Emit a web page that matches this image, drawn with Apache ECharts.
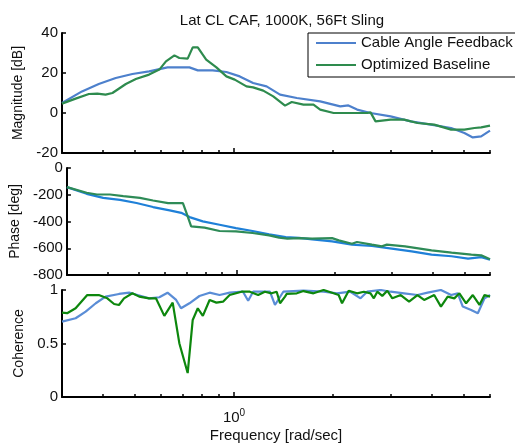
<!DOCTYPE html>
<html>
<head>
<meta charset="utf-8">
<script src="https://cdn.jsdelivr.net/npm/echarts@6/dist/echarts.min.js"></script>
<style>
  html, body { margin: 0; padding: 0; background: #fff; }
  #main { width: 515px; height: 447px; }
</style>
</head>
<body>
<div id="main"></div>
<script>
// magnitude [dB]
const magFreqCAF = [0.3, 0.345, 0.388, 0.437, 0.491, 0.552, 0.628, 0.732, 0.776, 0.861, 0.948, 1.041, 1.143, 1.256, 1.38, 1.552, 1.828, 2.104, 2.227, 2.367, 2.6, 2.993, 3.446, 3.966, 4.57, 5.015, 5.32, 5.64, 6.0]
const magCAF = [5, 10.8, 14.5, 17.5, 19.5, 20.8, 22.8, 22.8, 21.3, 21.3, 20.5, 18.3, 15, 13.3, 9.2, 7.5, 5.8, 3.3, 3.8, 1.7, 0, -1.7, -4.2, -5.8, -7.5, -10, -12.2, -11.7, -8.8]
const magFreqOpt = [0.3, 0.33, 0.362, 0.384, 0.407, 0.427, 0.469, 0.503, 0.552, 0.593, 0.621, 0.659, 0.682, 0.723, 0.749, 0.776, 0.823, 0.884, 0.948, 1.005, 1.091, 1.143, 1.227, 1.316, 1.429, 1.498, 1.626, 1.744, 1.828, 2.008, 2.258, 2.539, 2.6, 2.693, 2.993, 3.288, 3.611, 4.06, 4.57, 5.015, 5.382, 5.64, 6.0]
const magOpt = [4.7, 7.2, 9.5, 9.7, 9.2, 10, 14.5, 17, 19.2, 21.7, 25.8, 28.8, 27.5, 27.2, 32.8, 32.8, 26.7, 22.8, 18.3, 16.7, 13.3, 12.8, 11.2, 8.3, 3.7, 5.5, 4.2, 4.2, 1.7, 0, 0, 0, 0.3, -4.2, -3.3, -3.3, -5, -5.8, -8.3, -8.3, -7.5, -7.2, -6.3]

// phase [deg]
const phFreqCAF = [0.3, 0.345, 0.388, 0.437, 0.491, 0.552, 0.621, 0.674, 0.715, 0.785, 0.884, 0.993, 1.117, 1.256, 1.412, 1.552, 1.704, 1.962, 2.258, 2.6, 2.993, 3.446, 3.966, 4.57, 5.137, 5.64, 6.0]
const phCAF = [-143, -193, -223, -238, -262, -292, -317, -335, -367, -399, -424, -449, -471, -496, -516, -522, -534, -548, -573, -583, -603, -623, -648, -660, -678, -666, -685]
const phFreqOpt = [0.3, 0.345, 0.371, 0.407, 0.447, 0.503, 0.552, 0.614, 0.682, 0.698, 0.723, 0.795, 0.884, 0.993, 1.117, 1.256, 1.348, 1.429, 1.552, 1.704, 1.962, 2.056, 2.258, 2.339, 2.6, 2.79, 2.89, 3.288, 3.966, 4.57, 5.258, 5.64, 6.0]
const phOpt = [-143, -185, -198, -198, -210, -223, -243, -262, -262, -330, -437, -446, -471, -474, -486, -504, -521, -528, -524, -528, -524, -541, -566, -553, -573, -586, -573, -586, -616, -633, -648, -653, -683]

// coherence
const cohFreqCAF = [0.3, 0.33, 0.354, 0.38, 0.407, 0.447, 0.48, 0.509, 0.552, 0.593, 0.628, 0.667, 0.69, 0.732, 0.785, 0.843, 0.904, 0.97, 1.065, 1.104, 1.143, 1.286, 1.332, 1.412, 1.626, 1.872, 2.056, 2.258, 2.424, 2.539, 2.79, 2.993, 3.288, 3.611, 3.877, 4.256, 4.57, 4.787, 4.959, 5.258, 5.511, 5.774, 6.0]
const cohCAF = [0.705, 0.736, 0.798, 0.876, 0.938, 0.963, 0.975, 0.953, 0.922, 0.932, 0.975, 0.907, 0.829, 0.876, 0.944, 0.975, 0.953, 0.975, 0.984, 0.9, 0.984, 0.984, 0.86, 0.984, 0.995, 0.984, 0.969, 0.984, 0.922, 0.984, 1.0, 0.984, 0.969, 0.953, 0.975, 1.0, 0.953, 0.969, 0.845, 0.814, 0.783, 0.922, 0.953]
const cohFreqOpt = [0.3, 0.311, 0.33, 0.358, 0.388, 0.412, 0.432, 0.447, 0.463, 0.491, 0.515, 0.552, 0.579, 0.614, 0.651, 0.682, 0.723, 0.749, 0.776, 0.804, 0.843, 0.884, 0.926, 0.97, 1.054, 1.117, 1.184, 1.241, 1.301, 1.348, 1.38, 1.429, 1.446, 1.552, 1.626, 1.744, 1.872, 2.008, 2.08, 2.13, 2.232, 2.367, 2.481, 2.6, 2.661, 2.726, 2.823, 2.924, 3.029, 3.212, 3.405, 3.611, 3.784, 4.06, 4.256, 4.462, 4.674, 4.842, 5.076, 5.32, 5.574, 5.774, 6.0]
const cohOpt = [0.788, 0.783, 0.829, 0.953, 0.953, 0.922, 0.869, 0.86, 0.922, 0.969, 0.938, 0.922, 0.922, 0.758, 0.882, 0.503, 0.224, 0.72, 0.829, 0.758, 0.907, 0.882, 0.891, 0.953, 0.984, 0.984, 0.953, 0.984, 0.969, 0.984, 0.876, 0.938, 0.963, 0.969, 0.99, 0.969, 1.0, 0.969, 0.953, 0.876, 0.993, 0.969, 0.984, 0.969, 0.922, 0.984, 0.945, 0.993, 0.922, 0.953, 0.891, 0.953, 0.907, 0.953, 0.845, 0.938, 0.922, 0.969, 0.876, 0.953, 0.86, 0.953, 0.938]

const minorTicks = [0.3, 0.4, 0.5, 0.6, 0.7, 0.8, 0.9, 1, 2, 3, 4, 5, 6]
const nameCAF = 'Cable Angle Feedback'
const nameOpt = 'Optimized Baseline'

const font = 'Liberation Sans, Arial, sans-serif'

function pairs(f, v) {
  return f.map((x, i) => [x, v[i]])
}

const grids = [
  { left: 62, top: 33, width: 428, height: 120 },
  { left: 62, top: 168, width: 428, height: 107 },
  { left: 62, top: 290, width: 428, height: 107 }
]

let xAxes = []
grids.forEach((g, i) => {
  // small ticks
  xAxes.push({
    type: 'log', gridIndex: i, position: 'bottom', min: 0.3, max: 6,
    axisLine: { show: true, onZero: false, lineStyle: { color: '#000', width: 2 } },
    axisTick: { show: true, inside: true, length: 3, customValues: minorTicks, lineStyle: { color: '#000', width: 1.5 } },
    axisLabel: { show: false },
    splitLine: { show: false }
  })
  // bigger tick at 10^0
  xAxes.push({
    type: 'log', gridIndex: i, position: 'bottom', min: 0.3, max: 6,
    axisLine: { show: false, onZero: false },
    axisTick: { show: true, inside: true, length: 5, customValues: [1], lineStyle: { color: '#000', width: 1.5 } },
    axisLabel: i == 2 ? {
      show: true, customValues: [1], margin: 11,
      formatter: () => '{b|10}{s|0}',
      rich: {
        b: { fontSize: 15, fontFamily: font, color: '#111' },
        s: { fontSize: 10, fontFamily: font, color: '#111', padding: [0, 0, 9, 0] }
      }
    } : { show: false },
    splitLine: { show: false },
    name: i == 2 ? 'Frequency [rad/sec]' : '',
    nameLocation: 'middle', nameGap: 31,
    nameTextStyle: { fontSize: 15, fontFamily: font, color: '#111' }
  })
})

function yAxis(i, min, max, interval, name, gap) {
  return {
    type: 'value', gridIndex: i, min: min, max: max, interval: interval,
    axisLine: { show: true, lineStyle: { color: '#000', width: 2 } },
    axisTick: { show: true, inside: true, length: 4, lineStyle: { color: '#000', width: 1.5 } },
    axisLabel: { fontSize: 15, fontFamily: font, color: '#111', margin: 4 },
    splitLine: { show: false },
    name: name, nameLocation: 'middle', nameGap: gap,
    nameTextStyle: { fontSize: 14, fontFamily: font, color: '#111' }
  }
}

function line(name, xi, yi, data, color) {
  return {
    name: name, type: 'line', xAxisIndex: xi, yAxisIndex: yi,
    data: data, symbol: 'none', showSymbol: false,
    lineStyle: { width: 2.2, color: color },
    itemStyle: { color: color }
  }
}

const chart = echarts.init(document.getElementById('main'))
chart.setOption({
  animation: false,
  backgroundColor: '#fff',
  title: {
    text: 'Lat CL CAF, 1000K, 56Ft Sling',
    left: 277, top: 8, textAlign: 'center',
    textStyle: { fontSize: 15, fontWeight: 'normal', fontFamily: font, color: '#111' }
  },
  legend: {
    data: [nameCAF, nameOpt],
    orient: 'vertical', left: 308, top: 33,
    icon: 'rect', itemWidth: 40, itemHeight: 2, itemGap: 6,
    padding: [2, 10, 4, 8],
    borderColor: '#000', borderWidth: 1, backgroundColor: '#fff',
    textStyle: { fontSize: 15, lineHeight: 16, fontFamily: font, color: '#111' }
  },
  grid: grids,
  xAxis: xAxes,
  yAxis: [
    yAxis(0, -20, 40, 20, 'Magnitude [dB]', 35),
    yAxis(1, -800, 0, 200, 'Phase [deg]', 41),
    yAxis(2, 0, 1, 0.5, 'Coherence', 35)
  ],
  series: [
    line(nameCAF, 0, 0, pairs(magFreqCAF, magCAF), '#4d80cc'),
    line(nameOpt, 0, 0, pairs(magFreqOpt, magOpt), '#2e8b4e'),
    line(nameCAF, 2, 1, pairs(phFreqCAF, phCAF), '#1f80d8'),
    line(nameOpt, 2, 1, pairs(phFreqOpt, phOpt), '#2e8b57'),
    line(nameCAF, 4, 2, pairs(cohFreqCAF, cohCAF), '#5a8dd6'),
    line(nameOpt, 4, 2, pairs(cohFreqOpt, cohOpt), '#0d870d')
  ]
})
</script>
</body>
</html>
